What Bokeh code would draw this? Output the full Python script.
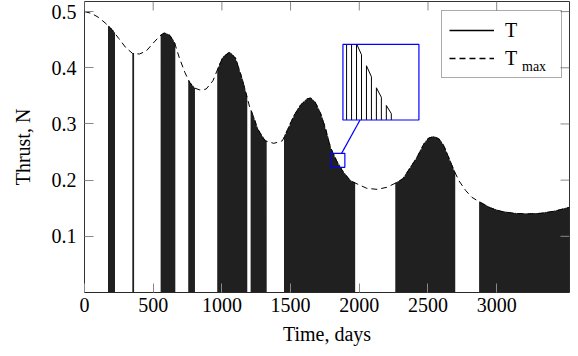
import numpy as np
from bokeh.plotting import figure
from bokeh.models import Range1d, FixedTicker, Legend, LegendItem, Label
from bokeh.embed import file_html
from bokeh.resources import INLINE

# ---- data ----
tmax_days = [0, 50, 100, 150, 200, 250, 300, 350, 400, 450, 500, 550, 580, 620, 655, 690, 730,
             765, 800, 840, 885, 935, 970, 1005, 1055, 1100, 1150, 1200, 1240, 1260, 1315, 1378,
             1440, 1475, 1525, 1570, 1620, 1645, 1680, 1720, 1755, 1790, 1840, 1885, 1935, 1985,
             2055, 2130, 2200, 2275, 2320, 2370, 2420, 2470, 2505, 2543, 2580, 2615, 2650, 2690,
             2725, 2775, 2820, 2880, 2955, 3030, 3125, 3220, 3320, 3415, 3530]
tmax_vals = [0.500, 0.497, 0.490, 0.480, 0.468, 0.452, 0.436, 0.4255, 0.4245, 0.430, 0.444, 0.457,
             0.462, 0.458, 0.445, 0.418, 0.392, 0.374, 0.364, 0.3605, 0.362, 0.377, 0.398, 0.418,
             0.428, 0.417, 0.378, 0.332, 0.306, 0.291, 0.270, 0.2655, 0.270, 0.288, 0.315, 0.333,
             0.3445, 0.3463, 0.3384, 0.3178, 0.291, 0.2584, 0.2317, 0.2139, 0.199, 0.1932, 0.1854,
             0.1836, 0.1872, 0.196, 0.203, 0.222, 0.2406, 0.2644, 0.275, 0.2774, 0.2733, 0.2614,
             0.2406, 0.2169, 0.199, 0.1813, 0.1694, 0.1605, 0.1505, 0.1445, 0.1409, 0.1399, 0.1409,
             0.1445, 0.1515]

# thrust arcs (engine on), days
arc_start = [175, 352, 558, 759, 970, 1213, 1456, 2266, 2876]
arc_end = [218, 357, 657, 800, 1184, 1322, 1972, 2700, 3530]
pulse_step = 6.8  # days between switching instants

x_ticks = [0, 500, 1000, 1500, 2000, 2500, 3000]
y_ticks = [0.1, 0.2, 0.3, 0.4, 0.5]
x_end = 3530
y_end = 0.518

# spy window (zoomed region) and where its magnified view is placed
spy_x = [1791, 1895]
spy_y = [0.2228, 0.2477]
inset_x = [1881, 2434]
inset_y = [0.3071, 0.4416]

FONT = "Liberation Serif"
FW, FH = 485, 291
TICK = 9

# ---- build thrust path ----
def tmax_at(t):
    return float(np.interp(t, tmax_days, tmax_vals))

tx, ty = [0.0], [0.0]
for a, b in zip(arc_start, arc_end):
    t = float(a)
    while t < b:
        t2 = min(t + pulse_step, b)
        tx += [t, t, t2, t2]
        ty += [0.0, tmax_at(t), tmax_at(t2), 0.0]
        t += 2 * pulse_step
tx.append(float(x_end)); ty.append(0.0)

p = figure(frame_width=FW, frame_height=FH, output_backend="svg", toolbar_location=None,
           x_range=Range1d(0, x_end), y_range=Range1d(0, y_end),
           min_border_left=84, min_border_right=9, min_border_top=1, min_border_bottom=60,
           background_fill_color="white", border_fill_color="white")
p.xgrid.visible = False
p.ygrid.visible = False
p.outline_line_color = "#333333"
p.outline_line_width = 1

# dense on/off switching renders as a dark, finely striped band
r_t = p.line(tx, ty, line_color="#202020", line_width=1.1)
r_max = p.line(tmax_days, tmax_vals, line_color="black", line_width=1, line_dash="6 4")

# top and right inward ticks (mirrors of the axes' ticks)
kx, ky = FW / x_end, FH / y_end
p.segment(x0=x_ticks, x1=x_ticks, y0=[y_end] * len(x_ticks), y1=[y_end - TICK / ky] * len(x_ticks),
          line_color="#888888", line_width=1)
p.segment(x0=[x_end] * len(y_ticks), x1=[x_end - TICK / kx] * len(y_ticks), y0=y_ticks, y1=y_ticks,
          line_color="#888888", line_width=1)

# ---- inset (magnified view) ----
def clip(x0, y0, x1, y1, xmin, xmax, ymin, ymax):
    dx, dy = x1 - x0, y1 - y0
    u0, u1 = 0.0, 1.0
    for pp, qq in ((-dx, x0 - xmin), (dx, xmax - x0), (-dy, y0 - ymin), (dy, ymax - y0)):
        if pp == 0:
            if qq < 0:
                return None
        else:
            r = qq / pp
            if pp < 0:
                if r > u1: return None
                u0 = max(u0, r)
            else:
                if r < u0: return None
                u1 = min(u1, r)
    return (x0 + u0 * dx, y0 + u0 * dy, x0 + u1 * dx, y0 + u1 * dy)

def to_inset(x, y):
    X = inset_x[0] + (x - spy_x[0]) / (spy_x[1] - spy_x[0]) * (inset_x[1] - inset_x[0])
    Y = inset_y[0] + (y - spy_y[0]) / (spy_y[1] - spy_y[0]) * (inset_y[1] - inset_y[0])
    return X, Y

p.quad(left=[inset_x[0]], right=[inset_x[1]], bottom=[inset_y[0]], top=[inset_y[1]],
       fill_color="white", line_color=None)
xs, ys = [], []
for i in range(len(tx) - 1):
    c = clip(tx[i], ty[i], tx[i + 1], ty[i + 1], spy_x[0], spy_x[1], spy_y[0], spy_y[1])
    if c is None:
        continue
    a0 = to_inset(c[0], c[1]); a1 = to_inset(c[2], c[3])
    xs.append([a0[0], a1[0]]); ys.append([a0[1], a1[1]])
p.multi_line(xs, ys, line_color="black", line_width=1)
p.quad(left=[spy_x[0], inset_x[0]], right=[spy_x[1], inset_x[1]],
       bottom=[spy_y[0], inset_y[0]], top=[spy_y[1], inset_y[1]],
       fill_color=None, line_color="#0000ff", line_width=1.2)

# connector between box centres, clipped by both boxes (in pixel space)
c1 = np.array([(spy_x[0] + spy_x[1]) / 2 * kx, (spy_y[0] + spy_y[1]) / 2 * ky])
c2 = np.array([(inset_x[0] + inset_x[1]) / 2 * kx, (inset_y[0] + inset_y[1]) / 2 * ky])
d = c2 - c1
h1 = np.array([(spy_x[1] - spy_x[0]) / 2 * kx, (spy_y[1] - spy_y[0]) / 2 * ky])
h2 = np.array([(inset_x[1] - inset_x[0]) / 2 * kx, (inset_y[1] - inset_y[0]) / 2 * ky])
t1 = min(h1[0] / abs(d[0]), h1[1] / abs(d[1]))
t2 = min(h2[0] / abs(d[0]), h2[1] / abs(d[1]))
q1 = c1 + t1 * d
q2 = c2 - t2 * d
p.line([q1[0] / kx, q2[0] / kx], [q1[1] / ky, q2[1] / ky], line_color="#0000ff", line_width=1.2)

# ---- axes ----
for ax in (p.xaxis[0], p.yaxis[0]):
    ax.axis_line_color = None
    ax.major_tick_in = TICK
    ax.major_tick_out = 0
    ax.minor_tick_line_color = None
    ax.major_tick_line_color = "#888888"
    ax.major_tick_line_width = 1
    ax.major_label_text_font = FONT
    ax.major_label_text_font_size = "20px"
    ax.major_label_text_color = "black"
    ax.axis_label_text_font = FONT
    ax.axis_label_text_font_size = "20px"
    ax.axis_label_text_font_style = "normal"
    ax.axis_label_text_color = "black"

p.xaxis.ticker = FixedTicker(ticks=x_ticks)
p.yaxis.ticker = FixedTicker(ticks=y_ticks)
p.xaxis.axis_label = "Time, days"
p.yaxis.axis_label = "Thrust, N"
p.xaxis.major_label_standoff = 5
p.xaxis.axis_label_standoff = 8
p.yaxis.major_label_standoff = 8
p.yaxis.axis_label_standoff = 15

# ---- legend (sample glyphs drawn slightly heavier, as in the reference) ----
lg_t = p.line([tmax_days[0]], [tmax_vals[0]], line_color="black", line_width=1.6)
lg_max = p.line([tmax_days[0]], [tmax_vals[0]], line_color="black", line_width=1.4, line_dash="6 4")
legend = Legend(items=[LegendItem(label="T", renderers=[lg_t]),
                       LegendItem(label="T", renderers=[lg_max])],
                location=(357, FH - 77), orientation="vertical")
legend.label_text_font = FONT
legend.label_text_font_size = "20px"
legend.label_text_color = "black"
legend.glyph_width = 45
legend.glyph_height = 24
legend.label_height = 24
legend.label_width = 49
legend.label_standoff = 11
legend.padding = 7
legend.spacing = 4
legend.margin = 0
legend.border_line_color = "#555555"
legend.border_line_width = 1
legend.background_fill_alpha = 0
p.add_layout(legend)

# subscript of T_max, placed from screen offsets within the frame
def frame_to_data(px_from_left, px_from_top):
    return px_from_left / FW * x_end, y_end - px_from_top / FH * y_end

sx, sy = frame_to_data(437.5, 64.5)
p.add_layout(Label(x=sx, y=sy, text="max", text_font=FONT, text_font_size="14px",
                   text_color="black", text_baseline="alphabetic", text_align="left",
                   level="overlay"))

open("out.html", "w").write(file_html(p, INLINE))
